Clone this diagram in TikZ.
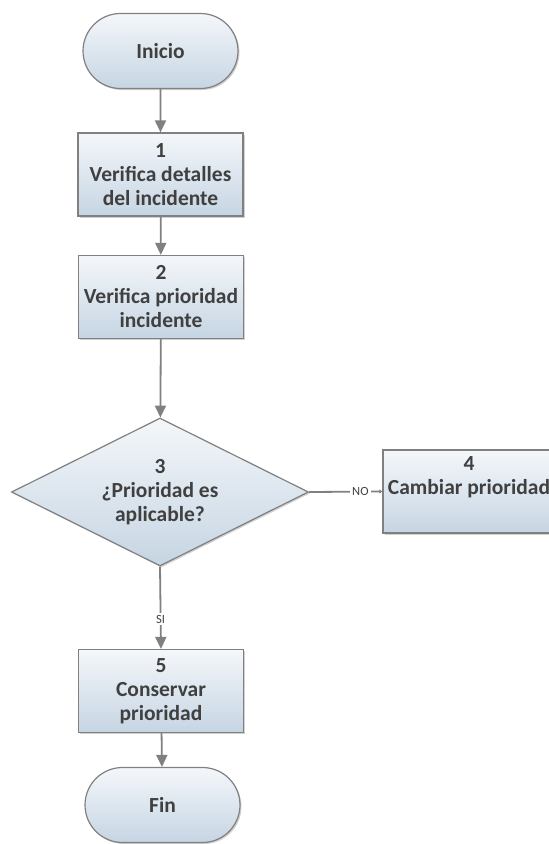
\documentclass[tikz,border=0pt]{standalone}
\usepackage{fontspec}
\setmainfont{Carlito}
\usetikzlibrary{arrows.meta,shapes.geometric,shapes.misc,shadows}
\definecolor{lineGray}{HTML}{808080}
\definecolor{textGray}{HTML}{404040}
\definecolor{fillTop}{HTML}{F4F7FA}
\definecolor{fillBottom}{HTML}{C6D5E3}
\tikzset{
	shape base/.style={draw=lineGray, line width=1.2pt, top color=fillTop, bottom color=fillBottom,
		text=textGray, font=\fontsize{21.5}{24}\selectfont\bfseries, align=center,
		drop shadow={shadow xshift=1.5pt, shadow yshift=-1.5pt, opacity=0.3, fill=black!60}},
	terminal/.style={shape base, rounded rectangle, minimum width=155pt, minimum height=75pt, inner sep=0pt},
	process/.style={shape base, rectangle, minimum width=165pt, minimum height=83pt, inner sep=0pt},
	decision/.style={shape base, diamond, aspect=2, minimum width=297pt, minimum height=148pt, inner sep=0pt},
	flow/.style={draw=lineGray, line width=1.8pt, -{Triangle[width=11pt,length=12pt]}},
	branch label/.style={fill=white, text=textGray, font=\fontsize{12.5}{14}\selectfont, inner sep=2pt}
}

\begin{document}
\begin{tikzpicture}[x=1pt, y=-1pt]
			%%%%% START %%%%%
			\useasboundingbox (0, 0) rectangle (549, 844);
			
			\node[terminal] (inicio) at (160.5, 51) {Inicio};
			\node[process] (verifDetalles) at (160.5, 174.5) {1\\Verifica detalles\\del incidente};
			\node[process] (verifPrioridad) at (161, 297) {2\\Verifica prioridad\\incidente};
			\node[decision] (esAplicable) at (160, 492) {3\\¿Prioridad es\\aplicable?};
			\node[process, minimum width=172pt] (cambiar) at (469, 491.5) {4\\Cambiar prioridad\\\strut};
			\node[process] (conservar) at (161, 691) {5\\Conservar\\prioridad};
			\node[terminal] (fin) at (162.5, 805) {Fin};
			
			\draw[flow] (inicio) -- (verifDetalles);
			\draw[flow] (verifDetalles) -- (verifPrioridad);
			\draw[flow] (verifPrioridad) -- (esAplicable);
			
			\draw[flow, -{Triangle[width=4pt,length=3pt]}] (esAplicable.east) -- node[branch label, pos=0.70] (no) {NO} (cambiar.west);
			\draw[flow] (esAplicable.south) -- node[branch label, pos=0.64] (si) {SI} (conservar.north);
			
			\draw[flow] (conservar) -- (fin);
			
			%%%%% END %%%%%
\end{tikzpicture}
\end{document}
